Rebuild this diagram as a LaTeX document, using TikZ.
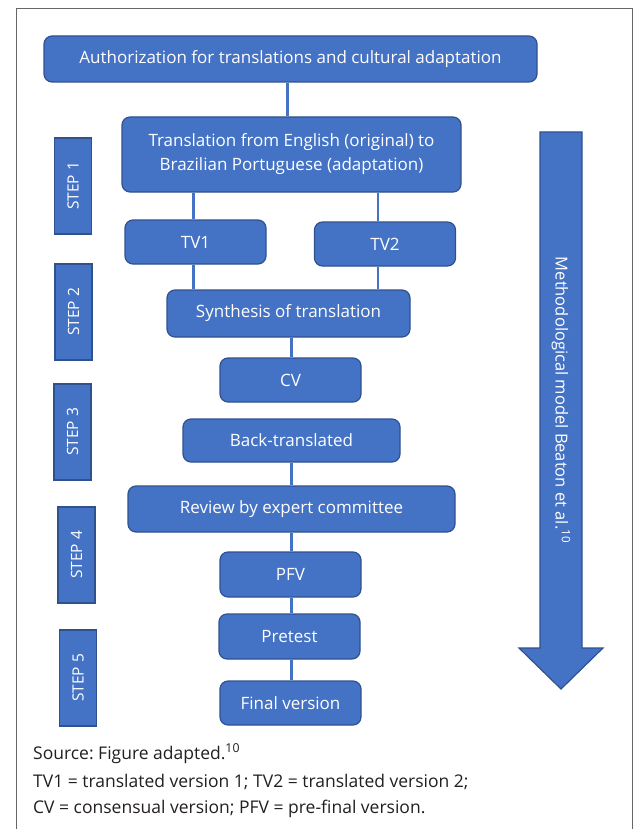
\documentclass[tikz,border=0pt]{standalone}
\usepackage{fontspec}
\setmainfont{Open Sans}
\newfontfamily\notefont{Open Sans}
\usepackage{xcolor}
\usetikzlibrary{positioning}
\definecolor{boxblue}{HTML}{4472C4}
\definecolor{edgeblue}{HTML}{2F528F}
\definecolor{notegray}{HTML}{231F20}
\frenchspacing

\begin{document}
\begin{tikzpicture}[x=1pt, y=-1pt,
    stage/.style={draw=edgeblue, line width=1.2pt, fill=boxblue, rounded corners=8pt,
        text=white, align=center, inner sep=0pt, font=\fontsize{17}{24}\selectfont},
    steplabel/.style={draw=edgeblue, line width=1.2pt, fill=boxblue, text=white,
        rotate=90, minimum width=96pt, minimum height=37pt, inner sep=0pt,
        font=\fontsize{15.5}{18}\selectfont},
    link/.style={boxblue, line width=2.5pt},
    note/.style={anchor=base west, inner sep=0pt, text=notegray,
        font=\notefont\fontsize{17.5}{20}\selectfont}]
    \useasboundingbox (0,0) rectangle (635,829);
    % Frame
    \draw[gray!80!black, line width=1pt] (16,829) -- (16,9) -- (632,9) -- (632,829);
    % Stages
    \node[stage, minimum width=493pt, minimum height=46pt] (auth) at (290.5,59)
        {Authorization for translations and cultural adaptation};
    \node[stage, minimum width=339pt, minimum height=75pt] (trans) at (291.5,154.5)
        {Translation from English (original) to\\Brazilian Portuguese (adaptation)};
    \node[stage, minimum width=141pt, minimum height=44pt] (tv1) at (195.5,242) {TV1};
    \node[stage, minimum width=141pt, minimum height=44pt] (tv2) at (385,244) {TV2};
    \node[stage, minimum width=243pt, minimum height=47pt] (synth) at (288.5,313.5)
        {Synthesis of translation};
    \node[stage, minimum width=141pt, minimum height=44pt] (cv) at (290.5,380) {CV};
    \node[stage, minimum width=217pt, minimum height=43pt] (back) at (291.5,440.5)
        {Back-translated};
    \node[stage, minimum width=327pt, minimum height=46pt] (review) at (291.5,509)
        {Review by expert committee};
    \node[stage, minimum width=141pt, minimum height=45pt] (pfv) at (290.5,574.5) {PFV};
    \node[stage, minimum width=141pt, minimum height=45pt] (pretest) at (289.5,636.5) {Pretest};
    \node[stage, minimum width=141pt, minimum height=44pt] (final) at (290.5,703) {Final version};
    % Steps
    \node[steplabel] (step1) at (73,186) {STEP 1};
    \node[steplabel] (step2) at (73.5,312) {STEP 2};
    \node[steplabel] (step3) at (72.5,432) {STEP 3};
    \node[steplabel] (step4) at (76.5,555) {STEP 4};
    \node[steplabel] (step5) at (78,678) {STEP 5};
    % Links
    \draw[link] ([xshift=-3pt]auth.south) -- ([xshift=-3pt]auth.south |- trans.north);
    \draw[link] ([xshift=-2pt]tv1.north) -- ([xshift=-2pt]tv1.north |- trans.south);
    \draw[link] ([xshift=-7pt]tv2.north) -- ([xshift=-7pt]tv2.north |- trans.south);
    \draw[link] ([xshift=-2pt]tv1.south) -- ([xshift=-2pt]tv1.south |- synth.north);
    \draw[link] ([xshift=-7pt]tv2.south) -- ([xshift=-7pt]tv2.south |- synth.north);
    \draw[link] ([xshift=3pt]synth.south) -- ([xshift=3pt]synth.south |- cv.north);
    \draw[link] (back.south) -- (back.south |- review.north);
    \draw[link] (review.south) -- (review.south |- pfv.north);
    \draw[link] ([xshift=1pt]pfv.south) -- ([xshift=1pt]pfv.south |- pretest.north);
    \draw[link] ([xshift=2pt]pretest.south) -- ([xshift=2pt]pretest.south |- final.north);
    % Model arrow
    \draw[draw=edgeblue, line width=1.2pt, fill=boxblue]
        (540,132) -- (582,132) -- (582,648) -- (603,648) -- (561,689)
        -- (519,648) -- (540,648) -- cycle;
    \node[text=white, rotate=-90, font=\fontsize{16.5}{20}\selectfont] (model) at (561,400)
        {Methodological model Beaton et al.\textsuperscript{10}};
    % Notes
    \node[note] (src) at (33,759) {Source: Figure adapted.\textsuperscript{10}};
    \node[note] (abbr1) at (33,787) {TV1 = translated version 1; TV2 = translated version 2;};
    \node[note] (abbr2) at (33,813) {CV = consensual version; PFV = pre-final version.};
\end{tikzpicture}
\end{document}
